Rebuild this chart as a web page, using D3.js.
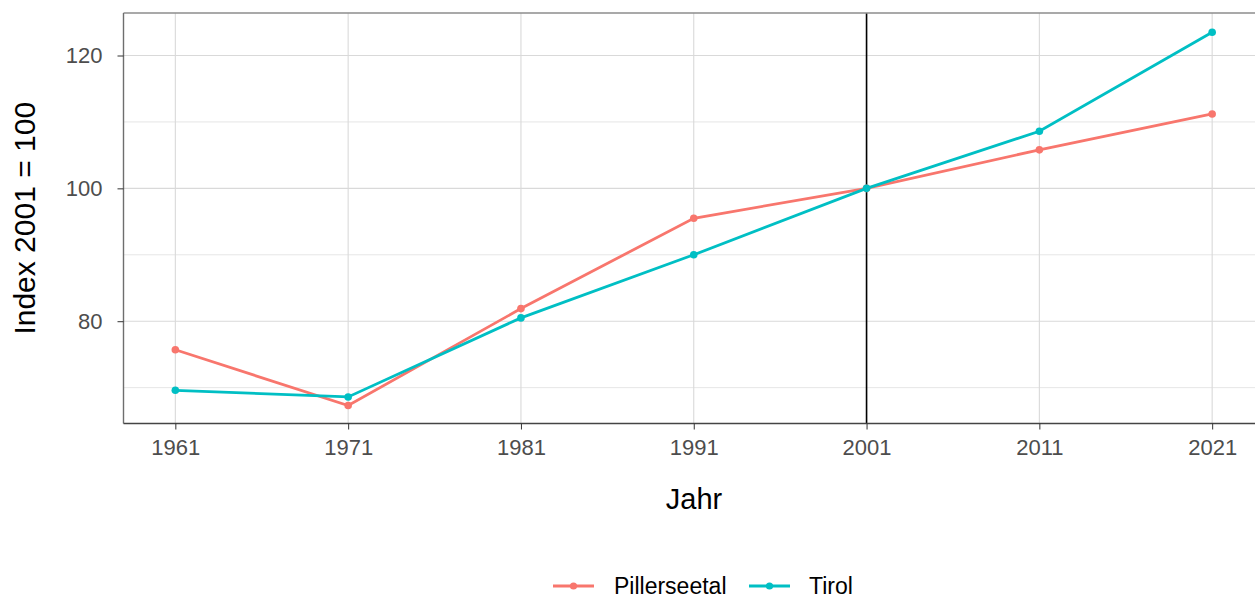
<!DOCTYPE html>
<html><head><meta charset="utf-8">
<script src="https://cdn.jsdelivr.net/npm/d3@7"></script>
<style>body{margin:0;background:#fff;}svg{display:block;font-family:"Liberation Sans",Arial,sans-serif;}</style>
</head><body><svg id="c" width="1255" height="598"></svg>
<script>
const years = [1961, 1971, 1981, 1991, 2001, 2011, 2021];
const pillerseetal = [75.7, 67.3, 81.9, 95.5, 100, 105.8, 111.2];
const tirol = [69.6, 68.6, 80.5, 90.0, 100, 108.6, 123.5];
const seriesNames = ["Pillerseetal", "Tirol"];
const seriesColors = ["#F8766D", "#00BFC4"];
const yTicks = [80, 100, 120];
const yMinor = [70, 90, 110];

const svg = d3.select("#c");
const L = 123.5, T = 13, B = 423.5, R = 1264;
const x = d3.scaleLinear().domain([1958, 2024]).range([L, R]);
const y = d3.scaleLinear().domain([64.6, 126.4]).range([B, T]);
const FF = "Liberation Sans, Arial, sans-serif";

const g = svg.append("g");
g.selectAll(".ymin").data(yMinor).enter().append("line")
  .attr("x1", L).attr("x2", R).attr("y1", d => y(d)).attr("y2", d => y(d))
  .attr("stroke", "#e3e3e3").attr("stroke-width", 0.9);
g.selectAll(".ymaj").data(yTicks).enter().append("line")
  .attr("x1", L).attr("x2", R).attr("y1", d => y(d)).attr("y2", d => y(d))
  .attr("stroke", "#d9d9d9").attr("stroke-width", 1.1);
g.selectAll(".xmaj").data(years).enter().append("line")
  .attr("x1", d => x(d)).attr("x2", d => x(d)).attr("y1", T).attr("y2", B)
  .attr("stroke", "#d9d9d9").attr("stroke-width", 1.1);

g.append("line").attr("x1", x(2001)).attr("x2", x(2001)).attr("y1", T).attr("y2", B)
  .attr("stroke", "#000").attr("stroke-width", 1.6);

const data = [pillerseetal, tirol];
const line = d3.line().x((d, i) => x(years[i])).y(d => y(d));
data.forEach((vals, k) => {
  g.append("path").datum(vals).attr("d", line).attr("fill", "none")
    .attr("stroke", seriesColors[k]).attr("stroke-width", 2.8);
  g.selectAll(".p" + k).data(vals).enter().append("circle")
    .attr("cx", (d, i) => x(years[i])).attr("cy", d => y(d)).attr("r", 3.8)
    .attr("fill", seriesColors[k]);
});

g.append("line").attr("x1", L).attr("x2", R).attr("y1", T).attr("y2", T).attr("stroke", "#8c8c8c").attr("stroke-width", 1.4);
g.append("line").attr("x1", L).attr("x2", L).attr("y1", T).attr("y2", B).attr("stroke", "#6e6e6e").attr("stroke-width", 1.4);
g.append("line").attr("x1", L).attr("x2", R).attr("y1", B).attr("y2", B).attr("stroke", "#444").attr("stroke-width", 1.4);

const xa = svg.append("g").attr("transform", `translate(0,${B})`)
  .call(d3.axisBottom(x).tickValues(years).tickFormat(d3.format("d")).tickSize(6).tickPadding(10));
xa.select(".domain").remove();
xa.selectAll("line").attr("stroke", "#333");
xa.selectAll("text").attr("font-size", 22).attr("fill", "#4d4d4d").attr("font-family", FF)
  .attr("dy", "0.71em");

const ya = svg.append("g").attr("transform", `translate(${L},0)`)
  .call(d3.axisLeft(y).tickValues(yTicks).tickSize(6).tickPadding(15));
ya.select(".domain").remove();
ya.selectAll("line").attr("stroke", "#333");
ya.selectAll("text").attr("font-size", 22).attr("fill", "#4d4d4d").attr("font-family", FF);

svg.append("text").attr("x", 694).attr("y", 509).attr("text-anchor", "middle")
  .attr("font-size", 29).attr("fill", "#000").attr("font-family", FF).text("Jahr");
svg.append("text").attr("transform", `translate(35,${(T + B) / 2}) rotate(-90)`).attr("text-anchor", "middle")
  .attr("font-size", 30).attr("fill", "#000").attr("font-family", FF).text("Index 2001 = 100");

const lg = svg.append("g");
const items = [{x0: 553, tx: 614}, {x0: 749, tx: 809}];
seriesNames.forEach((n, k) => {
  const it = items[k];
  lg.append("line").attr("x1", it.x0).attr("x2", it.x0 + 41).attr("y1", 586).attr("y2", 586)
    .attr("stroke", seriesColors[k]).attr("stroke-width", 2.8);
  lg.append("circle").attr("cx", it.x0 + 20.5).attr("cy", 586).attr("r", 3.6).attr("fill", seriesColors[k]);
  lg.append("text").attr("x", it.tx).attr("y", 594).attr("font-size", 23).attr("fill", "#000")
    .attr("font-family", FF).text(n);
});
</script></body></html>
